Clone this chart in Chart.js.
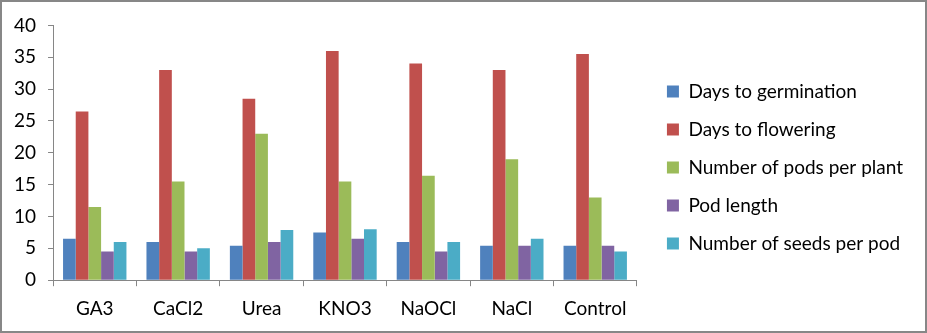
<!DOCTYPE html>
<html lang="en">
    <head>
        <meta charset="UTF-8" />
        <title>Seed treatment chart</title>
        <style>
            body {
                margin: 0;
                padding: 0;
                background: #fff;
            }
            #frame {
                width: 923px;
                height: 329px;
                border: 2px solid #878787;
            }
            canvas {
                display: block;
            }
        </style>
    </head>
    <body>
        <div id="frame">
            <canvas id="chart" width="923" height="329"></canvas>
        </div>
        <script src="https://cdn.jsdelivr.net/npm/chart.js@4.4.0/dist/chart.umd.min.js"></script>
        <script>
            // treatments
            const treatments = ["GA3", "CaCl2", "Urea", "KNO3", "NaOCl", "NaCl", "Control"];

            const daysToGermination = [6.5, 6, 5.4, 7.5, 6, 5.4, 5.4];
            const daysToFlowering = [26.5, 33, 28.5, 36, 34, 33, 35.5];
            const podsPerPlant = [11.5, 15.5, 23, 15.5, 16.4, 19, 13];
            const podLength = [4.5, 4.5, 6, 6.5, 4.5, 5.4, 5.4];
            const seedsPerPod = [6, 5, 7.9, 8, 6, 6.5, 4.5];

            const yTicks = [0, 5, 10, 15, 20, 25, 30, 35, 40];

            const fontName = "Lato, 'Open Sans', sans-serif";
            const axisGray = "#868686";

            function ds(label, data, color) {
                return {
                    label: label,
                    data: data,
                    backgroundColor: color,
                    borderWidth: 0,
                    categoryPercentage: 0.76,
                    barPercentage: 1.0,
                };
            }

            // put the legend a bit away from the plot, like the excel one
            const legendPlace = {
                id: "legendPlace",
                afterLayout(chart) {
                    const lg = chart.legend;
                    const dx = chart.chartArea.right + 11 - lg.left;
                    const dy = -8;
                    lg.left += dx;
                    lg.right += dx;
                    lg.top += dy;
                    lg.bottom += dy;
                },
            };

            function draw() {
                new Chart(document.getElementById("chart"), {
                    type: "bar",
                    data: {
                        labels: treatments,
                        datasets: [
                            ds("Days to germination", daysToGermination, "#4F81BD"),
                            ds("Days to flowering", daysToFlowering, "#C0504D"),
                            ds("Number of pods per plant", podsPerPlant, "#9BBB59"),
                            ds("Pod length", podLength, "#8064A2"),
                            ds("Number of seeds per pod", seedsPerPod, "#4BACC6"),
                        ],
                    },
                    plugins: [legendPlace],
                    options: {
                        responsive: false,
                        animation: false,
                        layout: {
                            padding: { top: 18, left: 0, right: 23, bottom: 0 },
                        },
                        plugins: {
                            tooltip: { enabled: false },
                            legend: {
                                position: "right",
                                align: "center",
                                maxWidth: 320,
                                labels: {
                                    boxWidth: 12,
                                    boxHeight: 12,
                                    padding: 19,
                                    color: "#000",
                                    font: { family: fontName, size: 19 },
                                },
                            },
                        },
                        scales: {
                            x: {
                                grid: {
                                    offset: true,
                                    drawOnChartArea: false,
                                    tickLength: 6,
                                    color: axisGray,
                                },
                                border: { color: axisGray },
                                ticks: {
                                    color: "#000",
                                    padding: 11,
                                    font: { family: fontName, size: 19 },
                                },
                            },
                            y: {
                                min: 0,
                                max: 40,
                                afterBuildTicks: (axis) => {
                                    axis.ticks = yTicks.map((v) => ({ value: v }));
                                },
                                grid: {
                                    drawOnChartArea: false,
                                    tickLength: 5,
                                    color: axisGray,
                                },
                                border: { color: axisGray },
                                ticks: {
                                    color: "#000",
                                    padding: 12,
                                    font: { family: fontName, size: 19 },
                                },
                            },
                        },
                    },
                });
            }

            Promise.all([
                document.fonts.load("19px Lato"),
            ]).then(draw, draw);
        </script>
    </body>
</html>
